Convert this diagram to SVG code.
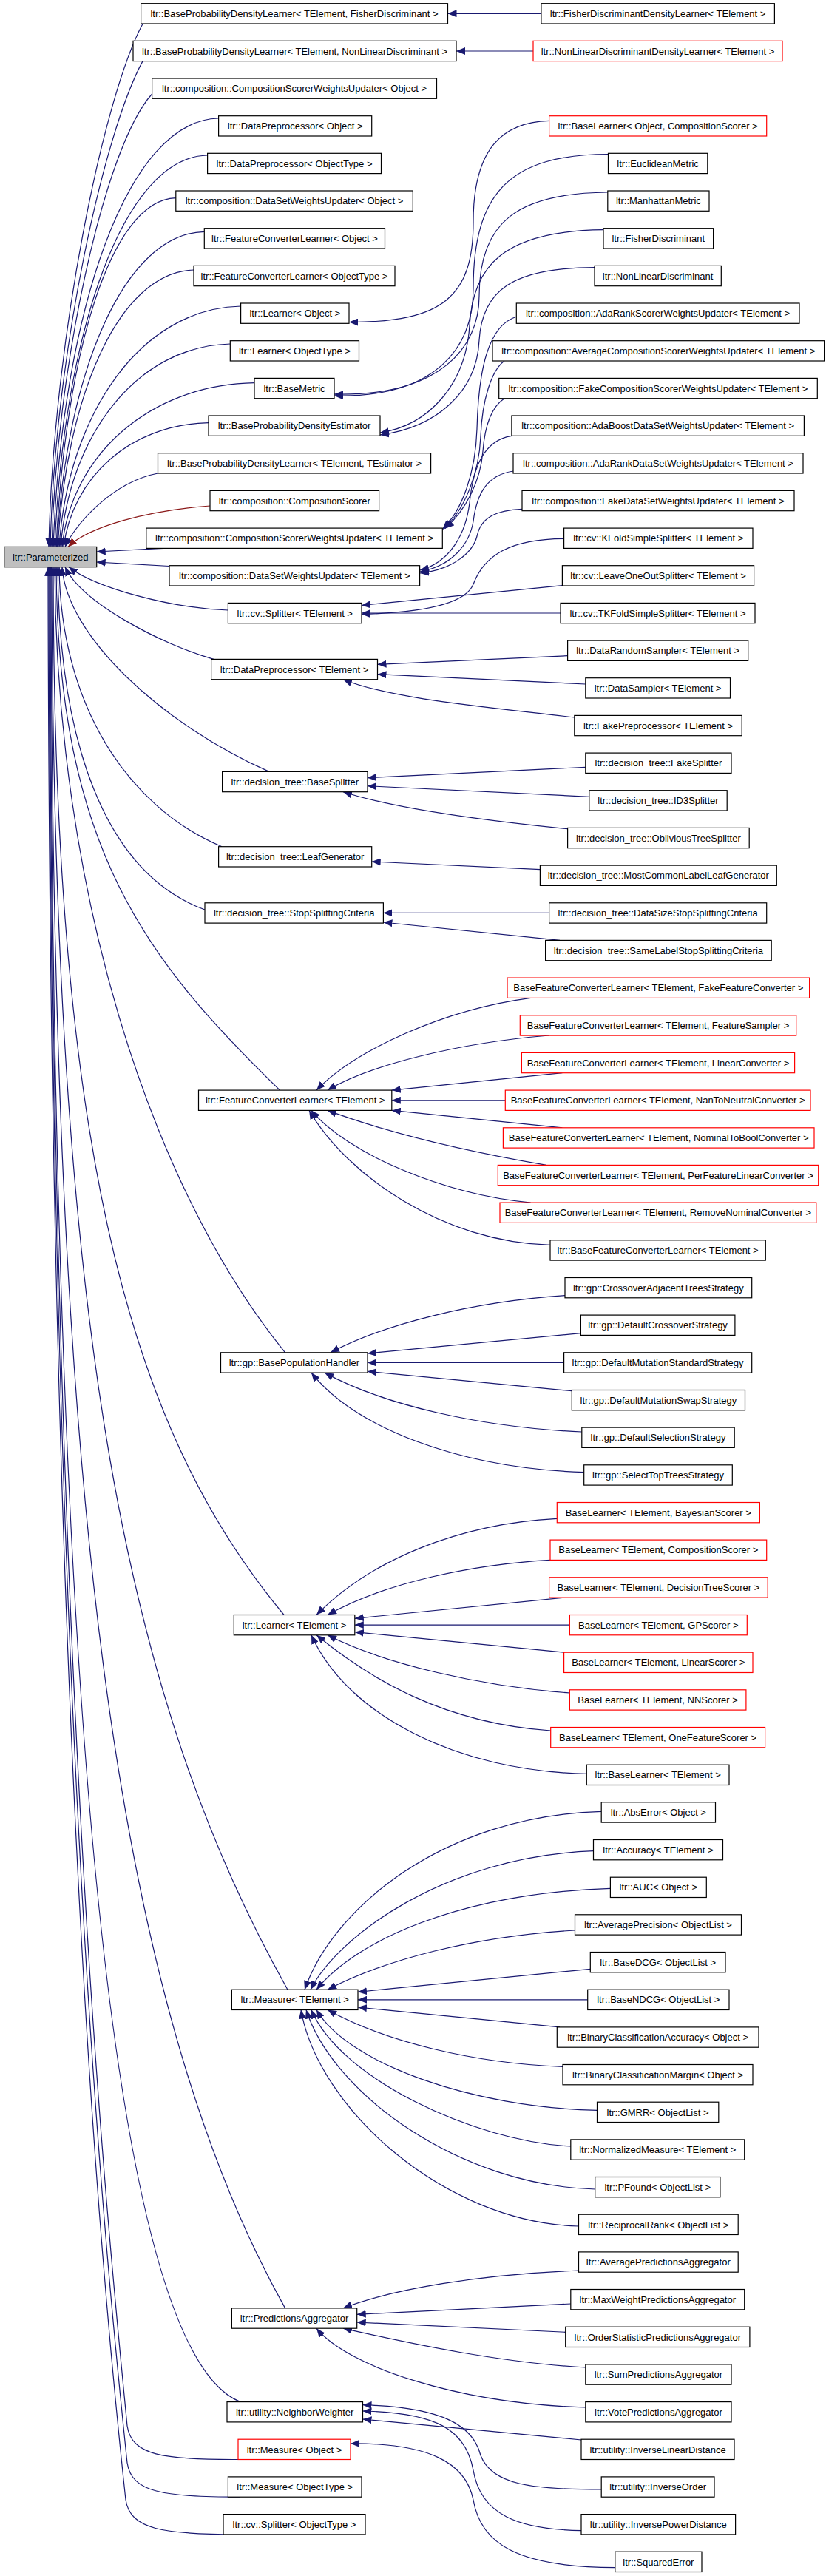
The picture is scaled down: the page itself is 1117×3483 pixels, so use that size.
<svg xmlns="http://www.w3.org/2000/svg" width="1117" height="3483" viewBox="0 0 1117 3483">
<style>
rect{fill:#fff;stroke:#000;stroke-width:1.2}
.r rect{stroke:#ff0000}
.g rect{fill:#bfbfbf}
text{font-family:"Liberation Sans",Arial,sans-serif;font-size:13px;text-anchor:middle;fill:#000}
#edges path{fill:none;stroke:#191970;stroke-width:1.2;marker-start:url(#a)}
#edges path.p{stroke:#8b1a1a;marker-start:url(#ap)}
</style>
<defs>
<marker id="a" viewBox="0 0 12 10" refX="12" refY="5" markerWidth="12" markerHeight="10" markerUnits="userSpaceOnUse" orient="auto-start-reverse"><path d="M0,0L12,5L0,10z" fill="#191970"/></marker>
<marker id="ap" viewBox="0 0 12 10" refX="12" refY="5" markerWidth="12" markerHeight="10" markerUnits="userSpaceOnUse" orient="auto-start-reverse"><path d="M0,0L12,5L0,10z" fill="#8b1a1a"/></marker>
</defs>
<rect x="0" y="0" width="1117" height="3483" style="fill:#fff;stroke:none"/>
<g id="edges">
<path d="M605.5,18.3 L731.9,18.3"/>
<path d="M617,69 L721,69"/>
<path d="M66,739.4 C72,460 140,130 193,32.3"/>
<path d="M68,739.4 C74,480 140,180 193,82.6"/>
<path d="M70,739.4 C76,500 140,200 205.6,127"/>
<path d="M72,739.4 C84,420 172,162 295.6,160"/>
<path d="M74,739.4 C86,448 167,212 280.6,210"/>
<path d="M76,739.4 C88,480 149,270 237.8,267.7"/>
<path d="M77,739.4 C89,505 167,316 276.3,313.3"/>
<path d="M78,739.4 C90,533 161,368 262,365"/>
<path d="M80,739.4 C92,560 190,417 325.6,414"/>
<path d="M82,739.4 C94,588 185,468 311.3,465"/>
<path d="M84,739.4 C96,617 201,520 344,517.7"/>
<path d="M86,739.4 C98,647 174,574 282,571.7"/>
<path d="M88,739.4 C100,712 150,652 213.5,640"/>
<path class="p" d="M92,739.4 C120,712 200,690 284,684"/>
<path d="M130.7,746 L221,741.4"/>
<path d="M130.7,760 L229,765.5"/>
<path d="M93,766.7 C130,795 230,822 308.4,825"/>
<path d="M88,766.7 C110,815 220,872 289,891.4"/>
<path d="M84,766.7 C90,860 220,980 364,1043.4"/>
<path d="M80,766.7 C82,950 170,1090 300,1144.7"/>
<path d="M78,766.7 C80,1000 140,1180 277,1230"/>
<path d="M76,766.7 C78,1150 200,1300 378.5,1474.1"/>
<path d="M74,766.7 C76,1200 200,1600 385.6,1828.8"/>
<path d="M72,766.7 C72,1600 190,1950 384,2183.5"/>
<path d="M70,766.7 C72,1800 170,2300 389,2690.2"/>
<path d="M69,766.7 C70,2000 150,2700 385.6,3120.9"/>
<path d="M68,766.7 C70,2300 150,3180 325,3247.6"/>
<path d="M67,766.7 C69,2300 150,3050 172,3280 C178,3320 220,3326 322,3325.5"/>
<path d="M66,766.7 C68,2350 148,3100 172,3330 C178,3370 220,3376 325,3376.2"/>
<path d="M65,766.7 C67,2400 145,3150 170,3380 C176,3420 220,3427 325,3426.9"/>
<path d="M472,435.5 C600,436 640,400 640,300 C640,200 680,165 742.6,163.3"/>
<path d="M452,535 C590,538 640,470 640,390 C640,260 690,209 822.5,208.5"/>
<path d="M452,533 C595,536 648,470 648,400 C648,300 700,261 821.8,260"/>
<path d="M514,585 C580,575 630,520 635,440 C640,360 680,312 816,310.7"/>
<path d="M514,588 C590,578 645,530 648,460 C652,395 690,362 804,361.7"/>
<path d="M598,716 C625,690 643,640 645,580 C647,500 660,440 698.3,428.3"/>
<path d="M600,715 C628,690 648,640 650,590 C652,540 665,500 682,488"/>
<path d="M602,714.5 C630,690 650,650 653,610 C656,570 668,548 682,538.7"/>
<path d="M568,771 C610,760 630,720 635,680 C640,630 655,595 692,589.3"/>
<path d="M568,773 C612,765 635,735 640,705 C645,665 660,642 694,637"/>
<path d="M568,775 C615,770 640,745 645,725 C650,700 670,690 706,688.3"/>
<path d="M489,830.5 C580,828 630,815 640,790 C655,750 690,729 762.6,728.3"/>
<path d="M489,818.5 L760.4,791.7"/>
<path d="M489,829 L758,829"/>
<path d="M510.5,898.3 L767.6,886.7"/>
<path d="M510.5,911.7 L791.8,925"/>
<path d="M464,918.7 C530,945 650,955 776.8,970"/>
<path d="M497,1051.7 L791.8,1037.3"/>
<path d="M497,1062.7 L796.8,1077.3"/>
<path d="M464,1070.7 C540,1095 660,1110 767.6,1120.7"/>
<path d="M502.7,1165 L730.4,1175.7"/>
<path d="M518.4,1234.4 L742.6,1234.4"/>
<path d="M518.4,1247 L757,1271.4"/>
<path d="M428,1474.1 C480,1420 600,1365 717.6,1349.4"/>
<path d="M443,1474.1 C500,1440 620,1410 742.6,1400"/>
<path d="M529.8,1474.1 L760.4,1450.7"/>
<path d="M529.8,1487.8 L683.3,1487.8"/>
<path d="M529.8,1501.4 L760.4,1524.8"/>
<path d="M443,1501.4 C520,1530 620,1555 739,1575.4"/>
<path d="M421,1501.4 C470,1560 600,1615 717.6,1626.1"/>
<path d="M418,1501.4 C470,1590 600,1680 744,1683.3"/>
<path d="M447,1828.8 C520,1790 640,1760 764,1751.7"/>
<path d="M497,1830 L785.4,1802.7"/>
<path d="M497,1842.5 L762.6,1842.5"/>
<path d="M497,1854.3 L773.3,1880.7"/>
<path d="M439,1856.1 C520,1900 650,1930 786.8,1936"/>
<path d="M421,1856.1 C480,1930 620,1985 789.7,1990.7"/>
<path d="M428,2183.5 C500,2110 620,2060 753.3,2053.3"/>
<path d="M443,2183.5 C520,2140 640,2115 744,2109.3"/>
<path d="M479.8,2188.3 L760.4,2160.3"/>
<path d="M479.8,2197.1 L770.4,2197.1"/>
<path d="M479.8,2206.7 L762.6,2234.2"/>
<path d="M443,2210.8 C520,2250 650,2280 770.4,2289"/>
<path d="M428,2210.8 C500,2270 600,2330 744.7,2340"/>
<path d="M421,2210.8 C470,2320 620,2395 793.3,2398.3"/>
<path d="M412,2690.2 C450,2580 600,2455 813.2,2449.3"/>
<path d="M420,2690.2 C455,2620 600,2510 802.5,2502.7"/>
<path d="M428,2690.2 C480,2625 620,2560 825.4,2553.3"/>
<path d="M443,2690.2 C520,2650 640,2618 777.5,2610"/>
<path d="M484,2693.3 L798.3,2662.3"/>
<path d="M484,2703.8 L794.7,2703.8"/>
<path d="M484,2714 L757,2740.9"/>
<path d="M443,2717.5 C520,2760 640,2790 761,2794.3"/>
<path d="M428,2717.5 C470,2790 640,2850 807.5,2853.3"/>
<path d="M421,2717.5 C460,2810 640,2895 771.8,2902"/>
<path d="M414,2717.5 C450,2830 620,2955 804.7,2960"/>
<path d="M407,2717.5 C430,2850 600,3005 782.5,3010"/>
<path d="M464,3120.9 C530,3095 650,3075 782.5,3070"/>
<path d="M482.7,3129.3 L771.8,3115"/>
<path d="M482.7,3140 L764.7,3153.3"/>
<path d="M464,3148.2 C560,3170 680,3195 791.8,3201"/>
<path d="M428,3148.2 C470,3200 620,3250 791.8,3255"/>
<path d="M490.5,3271 L786,3299"/>
<path d="M490.5,3251.7 C600,3255 640,3280 650,3320 C665,3360 720,3366 813.2,3366"/>
<path d="M490.5,3260 C590,3262 630,3285 640,3340 C650,3400 700,3420 786,3421.7"/>
<path d="M474,3304 C580,3303 630,3330 640,3380 C650,3440 700,3471 831.8,3471.7"/>
</g>
<g id="root" class="g"><rect x="5.7" y="739.4" width="125" height="27.3"/><text x="68.2" y="757.6">ltr::Parameterized</text></g>
<g id="m0"><rect x="190.6" y="4.7" width="414.9" height="27.3"/><text x="398" y="22.9">ltr::BaseProbabilityDensityLearner&lt; TElement, FisherDiscriminant &gt;</text></g>
<g id="m1"><rect x="180" y="55.3" width="437" height="27.3"/><text x="398.5" y="73.6">ltr::BaseProbabilityDensityLearner&lt; TElement, NonLinearDiscriminant &gt;</text></g>
<g id="m2"><rect x="205.6" y="106" width="384.9" height="27.3"/><text x="398" y="124.3">ltr::composition::CompositionScorerWeightsUpdater&lt; Object &gt;</text></g>
<g id="m3"><rect x="295.6" y="156.7" width="207.1" height="27.3"/><text x="399.2" y="174.9">ltr::DataPreprocessor&lt; Object &gt;</text></g>
<g id="m4"><rect x="280.6" y="207.3" width="234.9" height="27.3"/><text x="398" y="225.6">ltr::DataPreprocessor&lt; ObjectType &gt;</text></g>
<g id="m5"><rect x="237.8" y="258" width="320.5" height="27.3"/><text x="398" y="276.3">ltr::composition::DataSetWeightsUpdater&lt; Object &gt;</text></g>
<g id="m6"><rect x="276.3" y="308.7" width="244.2" height="27.3"/><text x="398.4" y="326.9">ltr::FeatureConverterLearner&lt; Object &gt;</text></g>
<g id="m7"><rect x="262" y="359.4" width="272" height="27.3"/><text x="398" y="377.6">ltr::FeatureConverterLearner&lt; ObjectType &gt;</text></g>
<g id="m8"><rect x="325.6" y="410" width="146.4" height="27.3"/><text x="398.8" y="428.3">ltr::Learner&lt; Object &gt;</text></g>
<g id="m9"><rect x="311.3" y="460.7" width="174.2" height="27.3"/><text x="398.4" y="479">ltr::Learner&lt; ObjectType &gt;</text></g>
<g id="m10"><rect x="344" y="511.4" width="108" height="27.3"/><text x="398" y="529.6">ltr::BaseMetric</text></g>
<g id="m11"><rect x="282" y="562" width="232" height="27.3"/><text x="398" y="580.3">ltr::BaseProbabilityDensityEstimator</text></g>
<g id="m12"><rect x="213.5" y="612.7" width="369.1" height="27.3"/><text x="398" y="631">ltr::BaseProbabilityDensityLearner&lt; TElement, TEstimator &gt;</text></g>
<g id="m13"><rect x="284" y="663.4" width="228.6" height="27.3"/><text x="398.3" y="681.6">ltr::composition::CompositionScorer</text></g>
<g id="m14"><rect x="197.8" y="714.1" width="400.5" height="27.3"/><text x="398" y="732.3">ltr::composition::CompositionScorerWeightsUpdater&lt; TElement &gt;</text></g>
<g id="m15"><rect x="229" y="764.7" width="338.6" height="27.3"/><text x="398.3" y="783">ltr::composition::DataSetWeightsUpdater&lt; TElement &gt;</text></g>
<g id="m16"><rect x="308.4" y="815.4" width="180.6" height="27.3"/><text x="398.7" y="833.6">ltr::cv::Splitter&lt; TElement &gt;</text></g>
<g id="m17"><rect x="285.6" y="891.4" width="224.9" height="27.3"/><text x="398" y="909.6">ltr::DataPreprocessor&lt; TElement &gt;</text></g>
<g id="m18"><rect x="300.6" y="1043.4" width="196.4" height="27.3"/><text x="398.8" y="1061.6">ltr::decision_tree::BaseSplitter</text></g>
<g id="m19"><rect x="295.6" y="1144.7" width="207.1" height="27.3"/><text x="399.2" y="1163">ltr::decision_tree::LeafGenerator</text></g>
<g id="m20"><rect x="277" y="1220.8" width="241.4" height="27.3"/><text x="397.7" y="1239">ltr::decision_tree::StopSplittingCriteria</text></g>
<g id="m21"><rect x="268.5" y="1474.1" width="261.3" height="27.3"/><text x="399.2" y="1492.4">ltr::FeatureConverterLearner&lt; TElement &gt;</text></g>
<g id="m22"><rect x="298.5" y="1828.8" width="198.5" height="27.3"/><text x="397.8" y="1847.1">ltr::gp::BasePopulationHandler</text></g>
<g id="m23"><rect x="316.3" y="2183.5" width="163.5" height="27.3"/><text x="398" y="2201.7">ltr::Learner&lt; TElement &gt;</text></g>
<g id="m24"><rect x="313.4" y="2690.2" width="170.6" height="27.3"/><text x="398.7" y="2708.4">ltr::Measure&lt; TElement &gt;</text></g>
<g id="m25"><rect x="313.4" y="3120.9" width="169.3" height="27.3"/><text x="398" y="3139.1">ltr::PredictionsAggregator</text></g>
<g id="m26"><rect x="307" y="3247.6" width="183.5" height="27.3"/><text x="398.7" y="3265.8">ltr::utility::NeighborWeighter</text></g>
<g id="m27" class="r"><rect x="322" y="3298.2" width="152" height="27.3"/><text x="398" y="3316.5">ltr::Measure&lt; Object &gt;</text></g>
<g id="m28"><rect x="308.4" y="3348.9" width="180.6" height="27.3"/><text x="398.7" y="3367.2">ltr::Measure&lt; ObjectType &gt;</text></g>
<g id="m29"><rect x="302" y="3399.6" width="192" height="27.3"/><text x="398" y="3417.8">ltr::cv::Splitter&lt; ObjectType &gt;</text></g>
<g id="n0"><rect x="731.9" y="4.7" width="315.5" height="27.3"/><text x="889.6" y="22.9">ltr::FisherDiscriminantDensityLearner&lt; TElement &gt;</text></g>
<g id="n1" class="r"><rect x="721" y="55.3" width="337" height="27.3"/><text x="889.5" y="73.6">ltr::NonLinearDiscriminantDensityLearner&lt; TElement &gt;</text></g>
<g id="n3" class="r"><rect x="742.6" y="156.7" width="294.1" height="27.3"/><text x="889.6" y="174.9">ltr::BaseLearner&lt; Object, CompositionScorer &gt;</text></g>
<g id="n4"><rect x="822.5" y="207.3" width="134.3" height="27.3"/><text x="889.6" y="225.6">ltr::EuclideanMetric</text></g>
<g id="n5"><rect x="821.8" y="258" width="137.2" height="27.3"/><text x="890.4" y="276.3">ltr::ManhattanMetric</text></g>
<g id="n6"><rect x="816" y="308.7" width="148.6" height="27.3"/><text x="890.3" y="326.9">ltr::FisherDiscriminant</text></g>
<g id="n7"><rect x="804" y="359.4" width="171.3" height="27.3"/><text x="889.6" y="377.6">ltr::NonLinearDiscriminant</text></g>
<g id="n8"><rect x="698.3" y="410" width="382.7" height="27.3"/><text x="889.6" y="428.3">ltr::composition::AdaRankScorerWeightsUpdater&lt; TElement &gt;</text></g>
<g id="n9"><rect x="666" y="460.7" width="448.6" height="27.3"/><text x="890.3" y="479">ltr::composition::AverageCompositionScorerWeightsUpdater&lt; TElement &gt;</text></g>
<g id="n10"><rect x="674.7" y="511.4" width="430.6" height="27.3"/><text x="890" y="529.6">ltr::composition::FakeCompositionScorerWeightsUpdater&lt; TElement &gt;</text></g>
<g id="n11"><rect x="691.9" y="562" width="395.5" height="27.3"/><text x="889.6" y="580.3">ltr::composition::AdaBoostDataSetWeightsUpdater&lt; TElement &gt;</text></g>
<g id="n12"><rect x="694" y="612.7" width="392" height="27.3"/><text x="890" y="631">ltr::composition::AdaRankDataSetWeightsUpdater&lt; TElement &gt;</text></g>
<g id="n13"><rect x="706" y="663.4" width="368" height="27.3"/><text x="890" y="681.6">ltr::composition::FakeDataSetWeightsUpdater&lt; TElement &gt;</text></g>
<g id="n14"><rect x="762.6" y="714.1" width="255.4" height="27.3"/><text x="890.3" y="732.3">ltr::cv::KFoldSimpleSplitter&lt; TElement &gt;</text></g>
<g id="n15"><rect x="760.4" y="764.7" width="259.2" height="27.3"/><text x="890" y="783">ltr::cv::LeaveOneOutSplitter&lt; TElement &gt;</text></g>
<g id="n16"><rect x="758" y="815.4" width="263" height="27.3"/><text x="889.5" y="833.6">ltr::cv::TKFoldSimpleSplitter&lt; TElement &gt;</text></g>
<g id="n17"><rect x="767.6" y="866.1" width="244.1" height="27.3"/><text x="889.6" y="884.3">ltr::DataRandomSampler&lt; TElement &gt;</text></g>
<g id="n18"><rect x="791.8" y="916.7" width="195.7" height="27.3"/><text x="889.6" y="935">ltr::DataSampler&lt; TElement &gt;</text></g>
<g id="n19"><rect x="776.8" y="967.4" width="226.4" height="27.3"/><text x="890" y="985.7">ltr::FakePreprocessor&lt; TElement &gt;</text></g>
<g id="n20"><rect x="791.8" y="1018.1" width="197.2" height="27.3"/><text x="890.4" y="1036.3">ltr::decision_tree::FakeSplitter</text></g>
<g id="n21"><rect x="796.8" y="1068.7" width="186.4" height="27.3"/><text x="890" y="1087">ltr::decision_tree::ID3Splitter</text></g>
<g id="n22"><rect x="767.6" y="1119.4" width="245.6" height="27.3"/><text x="890.4" y="1137.7">ltr::decision_tree::ObliviousTreeSplitter</text></g>
<g id="n23"><rect x="730.4" y="1170.1" width="319.9" height="27.3"/><text x="890.3" y="1188.3">ltr::decision_tree::MostCommonLabelLeafGenerator</text></g>
<g id="n24"><rect x="742.6" y="1220.8" width="294.1" height="27.3"/><text x="889.6" y="1239">ltr::decision_tree::DataSizeStopSplittingCriteria</text></g>
<g id="n25"><rect x="737.6" y="1271.4" width="305.6" height="27.3"/><text x="890.4" y="1289.7">ltr::decision_tree::SameLabelStopSplittingCriteria</text></g>
<g id="n26" class="r"><rect x="686" y="1322.1" width="408.6" height="27.3"/><text x="890.3" y="1340.4">BaseFeatureConverterLearner&lt; TElement, FakeFeatureConverter &gt;</text></g>
<g id="n27" class="r"><rect x="703.3" y="1372.8" width="373.4" height="27.3"/><text x="890" y="1391">BaseFeatureConverterLearner&lt; TElement, FeatureSampler &gt;</text></g>
<g id="n28" class="r"><rect x="705.4" y="1423.4" width="369.2" height="27.3"/><text x="890" y="1441.7">BaseFeatureConverterLearner&lt; TElement, LinearConverter &gt;</text></g>
<g id="n29" class="r"><rect x="683.3" y="1474.1" width="412.7" height="27.3"/><text x="889.6" y="1492.4">BaseFeatureConverterLearner&lt; TElement, NanToNeutralConverter &gt;</text></g>
<g id="n30" class="r"><rect x="680.4" y="1524.8" width="420.6" height="27.3"/><text x="890.7" y="1543">BaseFeatureConverterLearner&lt; TElement, NominalToBoolConverter &gt;</text></g>
<g id="n31" class="r"><rect x="673.3" y="1575.4" width="433.4" height="27.3"/><text x="890" y="1593.7">BaseFeatureConverterLearner&lt; TElement, PerFeatureLinearConverter &gt;</text></g>
<g id="n32" class="r"><rect x="676" y="1626.1" width="427.8" height="27.3"/><text x="889.9" y="1644.4">BaseFeatureConverterLearner&lt; TElement, RemoveNominalConverter &gt;</text></g>
<g id="n33"><rect x="744" y="1676.8" width="291.3" height="27.3"/><text x="889.6" y="1695">ltr::BaseFeatureConverterLearner&lt; TElement &gt;</text></g>
<g id="n34"><rect x="764" y="1727.5" width="252.7" height="27.3"/><text x="890.3" y="1745.7">ltr::gp::CrossoverAdjacentTreesStrategy</text></g>
<g id="n35"><rect x="785.4" y="1778.1" width="208.5" height="27.3"/><text x="889.6" y="1796.4">ltr::gp::DefaultCrossoverStrategy</text></g>
<g id="n36"><rect x="762.6" y="1828.8" width="254.1" height="27.3"/><text x="889.6" y="1847.1">ltr::gp::DefaultMutationStandardStrategy</text></g>
<g id="n37"><rect x="773.3" y="1879.5" width="234.2" height="27.3"/><text x="890.4" y="1897.7">ltr::gp::DefaultMutationSwapStrategy</text></g>
<g id="n38"><rect x="786.8" y="1930.1" width="206.4" height="27.3"/><text x="890" y="1948.4">ltr::gp::DefaultSelectionStrategy</text></g>
<g id="n39"><rect x="789.7" y="1980.8" width="200.6" height="27.3"/><text x="890" y="1999.1">ltr::gp::SelectTopTreesStrategy</text></g>
<g id="n40" class="r"><rect x="753.3" y="2031.5" width="274.1" height="27.3"/><text x="890.3" y="2049.7">BaseLearner&lt; TElement, BayesianScorer &gt;</text></g>
<g id="n41" class="r"><rect x="744" y="2082.1" width="292.7" height="27.3"/><text x="890.3" y="2100.4">BaseLearner&lt; TElement, CompositionScorer &gt;</text></g>
<g id="n42" class="r"><rect x="742.6" y="2132.8" width="295.6" height="27.3"/><text x="890.4" y="2151.1">BaseLearner&lt; TElement, DecisionTreeScorer &gt;</text></g>
<g id="n43" class="r"><rect x="770.4" y="2183.5" width="239.9" height="27.3"/><text x="890.3" y="2201.7">BaseLearner&lt; TElement, GPScorer &gt;</text></g>
<g id="n44" class="r"><rect x="762.6" y="2234.2" width="255.4" height="27.3"/><text x="890.3" y="2252.4">BaseLearner&lt; TElement, LinearScorer &gt;</text></g>
<g id="n45" class="r"><rect x="770.4" y="2284.8" width="238.5" height="27.3"/><text x="889.6" y="2303.1">BaseLearner&lt; TElement, NNScorer &gt;</text></g>
<g id="n46" class="r"><rect x="744.7" y="2335.5" width="289.9" height="27.3"/><text x="889.6" y="2353.8">BaseLearner&lt; TElement, OneFeatureScorer &gt;</text></g>
<g id="n47"><rect x="793.3" y="2386.2" width="192.7" height="27.3"/><text x="889.6" y="2404.4">ltr::BaseLearner&lt; TElement &gt;</text></g>
<g id="n48"><rect x="813.2" y="2436.8" width="154.3" height="27.3"/><text x="890.3" y="2455.1">ltr::AbsError&lt; Object &gt;</text></g>
<g id="n49"><rect x="802.5" y="2487.5" width="175" height="27.3"/><text x="890" y="2505.8">ltr::Accuracy&lt; TElement &gt;</text></g>
<g id="n50"><rect x="825.4" y="2538.2" width="129.9" height="27.3"/><text x="890.3" y="2556.4">ltr::AUC&lt; Object &gt;</text></g>
<g id="n51"><rect x="777.5" y="2588.8" width="225" height="27.3"/><text x="890" y="2607.1">ltr::AveragePrecision&lt; ObjectList &gt;</text></g>
<g id="n52"><rect x="798.3" y="2639.5" width="182.7" height="27.3"/><text x="889.6" y="2657.8">ltr::BaseDCG&lt; ObjectList &gt;</text></g>
<g id="n53"><rect x="794.7" y="2690.2" width="191.3" height="27.3"/><text x="890.3" y="2708.4">ltr::BaseNDCG&lt; ObjectList &gt;</text></g>
<g id="n54"><rect x="753.3" y="2740.9" width="272.7" height="27.3"/><text x="889.6" y="2759.1">ltr::BinaryClassificationAccuracy&lt; Object &gt;</text></g>
<g id="n55"><rect x="761" y="2791.5" width="257" height="27.3"/><text x="889.5" y="2809.8">ltr::BinaryClassificationMargin&lt; Object &gt;</text></g>
<g id="n56"><rect x="807.5" y="2842.2" width="164.3" height="27.3"/><text x="889.6" y="2860.5">ltr::GMRR&lt; ObjectList &gt;</text></g>
<g id="n57"><rect x="771.8" y="2892.9" width="234.9" height="27.3"/><text x="889.3" y="2911.1">ltr::NormalizedMeasure&lt; TElement &gt;</text></g>
<g id="n58"><rect x="804.7" y="2943.5" width="169.2" height="27.3"/><text x="889.3" y="2961.8">ltr::PFound&lt; ObjectList &gt;</text></g>
<g id="n59"><rect x="782.5" y="2994.2" width="215.7" height="27.3"/><text x="890.3" y="3012.5">ltr::ReciprocalRank&lt; ObjectList &gt;</text></g>
<g id="n60"><rect x="782.5" y="3044.9" width="215.7" height="27.3"/><text x="890.3" y="3063.1">ltr::AveragePredictionsAggregator</text></g>
<g id="n61"><rect x="771.8" y="3095.5" width="234.9" height="27.3"/><text x="889.3" y="3113.8">ltr::MaxWeightPredictionsAggregator</text></g>
<g id="n62"><rect x="764.7" y="3146.2" width="249.2" height="27.3"/><text x="889.3" y="3164.5">ltr::OrderStatisticPredictionsAggregator</text></g>
<g id="n63"><rect x="791.8" y="3196.9" width="197.2" height="27.3"/><text x="890.4" y="3215.1">ltr::SumPredictionsAggregator</text></g>
<g id="n64"><rect x="791.8" y="3247.6" width="197.2" height="27.3"/><text x="890.4" y="3265.8">ltr::VotePredictionsAggregator</text></g>
<g id="n65"><rect x="786" y="3298.2" width="207" height="27.3"/><text x="889.5" y="3316.5">ltr::utility::InverseLinearDistance</text></g>
<g id="n66"><rect x="813.2" y="3348.9" width="152.8" height="27.3"/><text x="889.6" y="3367.2">ltr::utility::InverseOrder</text></g>
<g id="n67"><rect x="786" y="3399.6" width="208.6" height="27.3"/><text x="890.3" y="3417.8">ltr::utility::InversePowerDistance</text></g>
<g id="n68"><rect x="831.8" y="3450.2" width="117.2" height="27.3"/><text x="890.4" y="3468.5">ltr::SquaredError</text></g>
</svg>
